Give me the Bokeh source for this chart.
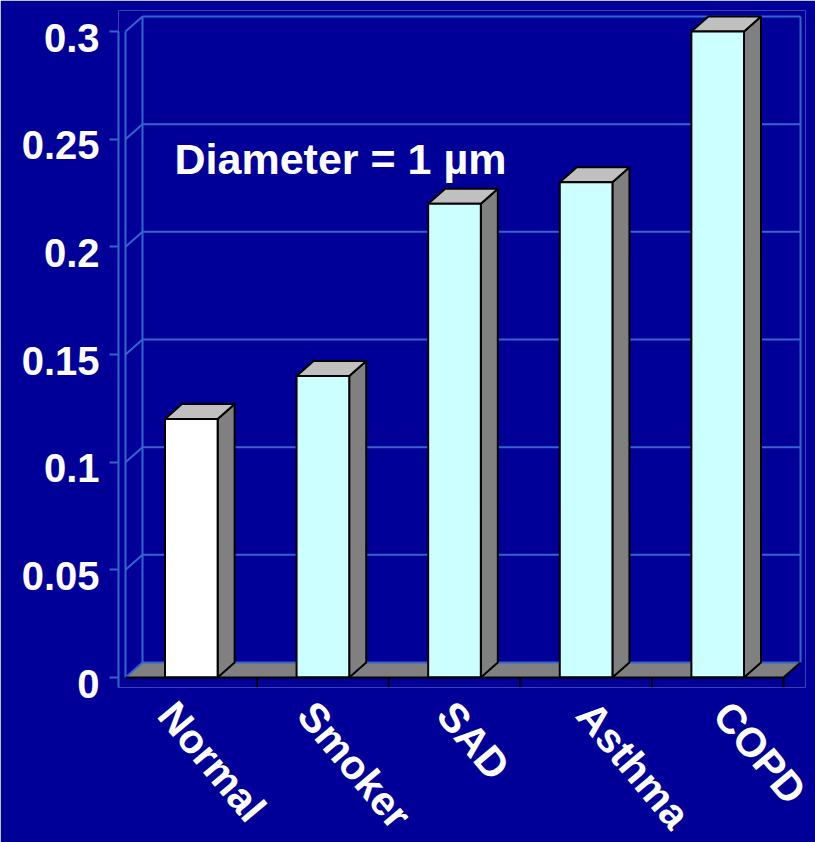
import math
import numpy as np
from bokeh.plotting import figure
from bokeh.models import Range1d, FixedTicker, CustomJSTickFormatter, Label, LinearAxis
from bokeh.embed import file_html
from bokeh.resources import INLINE

# --- data -----------------------------------------------------------------
categories = ["Normal", "Smoker", "SAD", "Asthma", "COPD"]
values = [0.12, 0.14, 0.22, 0.23, 0.30]
face_colors = ["#FFFFFF", "#CCFFFF", "#CCFFFF", "#CCFFFF", "#CCFFFF"]
y_ticks = [0, 0.05, 0.1, 0.15, 0.2, 0.25, 0.3]
note_text = "Diameter = 1 \u00b5m"

# --- styling --------------------------------------------------------------
BG = "#000099"
GRID = "#3366CC"
SIDE = "#808080"
TOP = "#C0C0C0"
FONT = "Liberation Sans"

n = len(categories)
y_max = y_ticks[-1]

# frame geometry (pixels) and the data <-> pixel scale it implies
FRAME_W, FRAME_H = 687, 677
PX_X = 658 / n            # pixels per category slot
PX_Y = 646 / y_max        # pixels per unit of value
DX = 17 / PX_X            # 3-D depth offset, x
DY = 15 / PX_Y            # 3-D depth offset, y
HALF = 0.2                # half bar width in category units

x_range = Range1d(-7 / PX_X, n + 22 / PX_X)
y_range = Range1d(-10 / PX_Y, y_max + 21 / PX_Y)

p = figure(
    frame_width=FRAME_W, frame_height=FRAME_H,
    min_border_left=118, min_border_right=10,
    min_border_top=10, min_border_bottom=155,
    x_range=x_range, y_range=y_range,
    output_backend="svg", toolbar_location=None,
    background_fill_color=BG, border_fill_color=BG,
    outline_line_color=None,
)
p.outline_line_alpha = 0
p.grid.visible = False

# category labels sit on a slightly wider pitch than the bars,
# tick labels on the value axis sit a little below their ticks
LABEL_PITCH = 139.5       # px between category labels
LABEL_MID = 445           # px position of the middle label anchor (from canvas left)
lab_start = n / 2 - (LABEL_MID - 118) / LABEL_PITCH
p.extra_x_ranges = {"cat_labels": Range1d(lab_start, lab_start + FRAME_W / LABEL_PITCH)}
p.extra_y_ranges = {"val_labels": Range1d(y_range.start + 6 / PX_Y, y_range.end + 6 / PX_Y)}

# floor
p.patch([0, n, n + DX, DX], [0, 0, DY, DY], fill_color=SIDE, line_color=None)

# back wall: horizontal gridlines and side edges
p.segment(x0=[DX] * len(y_ticks), y0=[v + DY for v in y_ticks],
          x1=[n + DX] * len(y_ticks), y1=[v + DY for v in y_ticks],
          line_color=GRID, line_width=2)
p.segment(x0=[DX, n + DX], y0=[DY, DY], x1=[DX, n + DX], y1=[y_max + DY] * 2,
          line_color=GRID, line_width=2)
# left wall: diagonal gridlines and front edge
p.segment(x0=[0] * len(y_ticks), y0=y_ticks,
          x1=[DX] * len(y_ticks), y1=[v + DY for v in y_ticks],
          line_color=GRID, line_width=2)
p.segment(x0=[0], y0=[0], x1=[0], y1=[y_max], line_color=GRID, line_width=2)

# bars
centers = np.arange(n) + 0.5
side_xs, side_ys, top_xs, top_ys = [], [], [], []
for c, v in zip(centers, values):
    r, l = c + HALF, c - HALF
    side_xs.append([r, r + DX, r + DX, r])
    side_ys.append([0, DY, v + DY, v])
    top_xs.append([l, r, r + DX, l + DX])
    top_ys.append([v, v, v + DY, v + DY])

p.patches(side_xs, side_ys, fill_color=SIDE, line_color="black", line_width=2)
p.patches(top_xs, top_ys, fill_color=TOP, line_color="black", line_width=2)
p.quad(left=centers - HALF, right=centers + HALF, bottom=0, top=values,
       fill_color=face_colors, line_color="black", line_width=2)

# front floor edge and category ticks
p.segment(x0=[0, n], y0=[0, 0], x1=[n, n + DX], y1=[0, DY],
          line_color="black", line_width=2)
bounds = np.arange(1, n + 1)
p.segment(x0=bounds, y0=0, x1=bounds, y1=-10 / PX_Y,
          line_color="black", line_width=2)

# value axis: line and ticks
ya = p.yaxis[0]
ya.ticker = FixedTicker(ticks=y_ticks)
ya.formatter = CustomJSTickFormatter(code="return ''")
ya.bounds = (float(y_range.start), float(y_max))
ya.axis_line_color = GRID
ya.axis_line_width = 2
ya.major_tick_line_color = GRID
ya.major_tick_line_width = 2
ya.major_tick_in = 0
ya.major_tick_out = 9
ya.minor_tick_line_color = None
ya.major_label_standoff = 0
ya.major_label_text_font_size = "1px"

# value axis: tick labels
yl = LinearAxis(y_range_name="val_labels", ticker=FixedTicker(ticks=y_ticks),
                formatter=CustomJSTickFormatter(code="return String(Number(tick.toFixed(2)))"))
yl.axis_line_color = None
yl.major_tick_line_color = None
yl.minor_tick_line_color = None
yl.major_tick_in = 0
yl.major_tick_out = 0
yl.major_label_standoff = 10
yl.major_label_text_color = "white"
yl.major_label_text_font = FONT
yl.major_label_text_font_style = "bold"
yl.major_label_text_font_size = "40px"
p.add_layout(yl, "left")

# category axis
p.xaxis.visible = False
xa = LinearAxis(x_range_name="cat_labels", ticker=FixedTicker(ticks=list(centers)),
                formatter=CustomJSTickFormatter(args=dict(names=categories),
                                                code="return names[Math.floor(tick)]"))
xa.major_label_orientation = -math.radians(50)
xa.axis_line_color = None
xa.major_tick_line_color = None
xa.minor_tick_line_color = None
xa.major_tick_in = 0
xa.major_tick_out = 0
xa.major_label_standoff = 20
xa.major_label_text_color = "white"
xa.major_label_text_font = FONT
xa.major_label_text_font_style = "bold"
xa.major_label_text_font_size = "41px"
p.add_layout(xa, "below")

# annotation
p.add_layout(Label(x=49 / PX_X, y=(677 - 158) / PX_Y, text=note_text,
                   text_color="white", text_font=FONT, text_font_style="bold",
                   text_font_size="43px", text_baseline="alphabetic",
                   text_align="left"))

open("out.html", "w").write(file_html(p, INLINE))
